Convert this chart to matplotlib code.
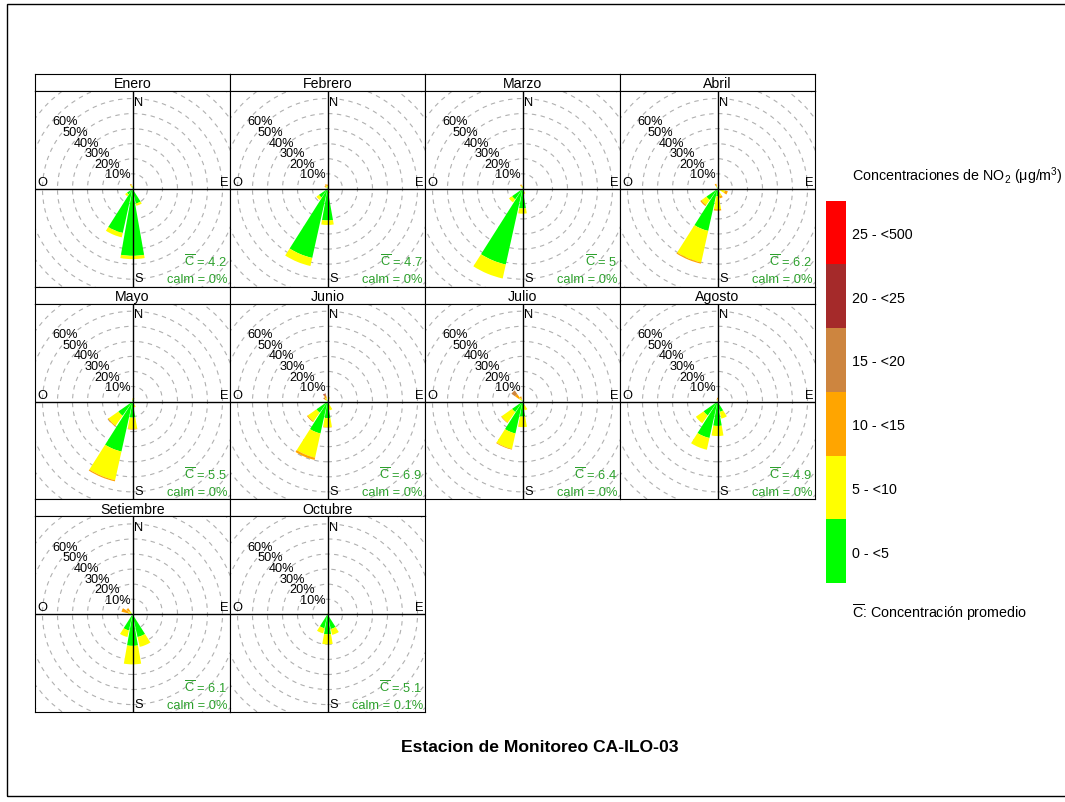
import matplotlib
matplotlib.use("Agg")
import numpy as np
import matplotlib.pyplot as plt
from matplotlib.patches import Wedge, Circle, Rectangle

plt.rcParams["font.family"] = ["Liberation Sans", "DejaVu Sans"]
plt.rcParams["mathtext.fontset"] = "custom"
plt.rcParams["mathtext.rm"] = "Liberation Sans"
plt.rcParams["mathtext.it"] = "Liberation Sans:italic"
plt.rcParams["mathtext.bf"] = "Liberation Sans:bold"

# concentration bins and colours
bin_labels = ["0 - <5", "5 - <10", "10 - <15", "15 - <20", "20 - <25", "25 - <500"]
bin_colors = ["#00FF00", "#FFFF00", "#FFA500", "#CD853F", "#A52A2A", "#FF0000"]

sector_angle = {"N": 0, "NNE": 22.5, "NE": 45, "ENE": 67.5, "E": 90, "ESE": 112.5,
                "SE": 135, "SSE": 157.5, "S": 180, "SSW": 202.5, "SW": 225,
                "WSW": 247.5, "W": 270, "WNW": 292.5, "NW": 315, "NNW": 337.5}

months = ["Enero", "Febrero", "Marzo", "Abril", "Mayo", "Junio",
          "Julio", "Agosto", "Setiembre", "Octubre"]

# frequency (%) per sector, split by concentration bin (green, yellow, orange, ...)
enero = {"S": [44.5, 2.2], "SSW": [30, 3], "SSE": [10, 1.5], "SW": [4.5, 1.5],
         "NNW": [1, 1.5, 0.8], "N": [1, 1]}
febrero = {"SSW": [47, 5.5], "S": [21, 3], "SW": [7, 2], "SSE": [2, 1],
           "NNW": [1, 1, 1.2], "N": [1, 1, 0.8], "NW": [0.5, 1, 1]}
marzo = {"SSW": [51.5, 9.5], "S": [13, 3.5], "SW": [8.5, 2.5], "SSE": [2, 1.5],
         "NNW": [1, 1, 1], "N": [1, 1]}
abril = {"SSW": [28.6, 21.5, 0.8], "SW": [9, 4, 1], "S": [5, 8.5, 1],
         "SSE": [2, 3, 1.5], "ESE": [2, 3, 2], "NNW": [1, 1, 1.5], "NNE": [1, 1, 0.5]}
mayo = {"SSW": [34, 19.5, 0.8], "SW": [11.5, 8, 0.6], "S": [10.7, 7.5, 0.4],
        "SSE": [2, 2], "NNE": [1, 1.5], "N": [1, 1]}
junio = {"SSW": [21.7, 16.5, 1.5], "SW": [9, 7, 0.7], "S": [11, 6, 0.3],
         "SSE": [2, 4], "NNE": [1, 2], "NNW": [1, 1.5, 1.5, 1, 0.5], "NW": [0.5, 1, 1, 1]}
julio = {"SSW": [21.7, 10.5, 0.5], "SW": [8.5, 8.5, 0.4], "S": [10, 7],
         "SSE": [2, 4], "NW": [1, 2, 3, 3], "NNW": [1, 1, 1.5]}
agosto = {"SSW": [24.8, 8], "SW": [11.3, 6.3], "S": [16.2, 6.7], "SSE": [7, 4.6],
          "N": [0.5, 1, 1], "NNW": [0.5, 0.5, 0.5]}
setiembre = {"S": [21, 12.3], "SSE": [15.5, 6.7], "SSW": [11, 4.5],
             "WNW": [1, 2, 4.5], "NW": [1, 1.5, 2.5], "W": [1, 1, 1]}
octubre = {"S": [13.3, 6.7], "SSE": [10, 4], "SSW": [9.5, 3.5], "N": [0.5, 0.5]}

month_data = [enero, febrero, marzo, abril, mayo, junio, julio, agosto, setiembre, octubre]
mean_conc = ["4.2", "4.7", "5", "6.2", "5.5", "6.9", "6.4", "4.9", "6.1", "5.1"]
calm = ["0%", "0%", "0%", "0%", "0%", "0%", "0%", "0%", "0%", "0.1%"]
ring_values = [10, 20, 30, 40, 50, 60]

W, H = 1065, 803
fig = plt.figure(figsize=(W / 100, H / 100), dpi=100)


def fbox(left, top, width, height):
    return [left / W, 1 - (top + height) / H, width / W, height / H]


lim = 65
half_width = 10  # degrees each side of sector centre
col_w, row_h, strip_h = 195, 212.7, 17
green_txt = "#2ca02c"

for i, (name, data) in enumerate(zip(months, month_data)):
    r, c = divmod(i, 4)
    left = 35 + col_w * c
    top = 75 + row_h * r

    sax = fig.add_axes(fbox(left, top, col_w, strip_h))
    sax.set_xticks([])
    sax.set_yticks([])
    sax.text(0.5, 0.45, name, ha="center", va="center", fontsize=10.2, transform=sax.transAxes)
    for s in sax.spines.values():
        s.set_linewidth(0.8)

    ax = fig.add_axes(fbox(left, top + strip_h, col_w, row_h - strip_h))
    ax.set_xlim(-lim, lim)
    ax.set_ylim(-lim, lim)
    ax.set_xticks([])
    ax.set_yticks([])
    for s in ax.spines.values():
        s.set_linewidth(0.8)

    for rv in range(10, 100, 10):
        ax.add_patch(Circle((0, 0), rv, fill=False, ec="#b0b0b0", lw=0.8,
                            ls=(0, (4, 4)), zorder=1))
    for rv in ring_values:
        d = (rv + 3.5) / np.sqrt(2)
        ax.text(-d, d, f"{rv}%", ha="center", va="center", fontsize=9.2, zorder=2)

    ax.axhline(0, color="black", lw=1, zorder=4)
    ax.axvline(0, color="black", lw=1, zorder=4)

    for sector, vals in data.items():
        theta = 90 - sector_angle[sector]
        inner = 0
        for k, v in enumerate(vals):
            outer = inner + v
            ax.add_patch(Wedge((0, 0), outer, theta - half_width, theta + half_width,
                               width=v, fc=bin_colors[k], ec="none", zorder=3))
            inner = outer

    ax.text(1.3, 62, "N", ha="left", va="top", fontsize=9.3, zorder=5)
    ax.text(1.3, -63.5, "S", ha="left", va="bottom", fontsize=9.3, zorder=5)
    ax.text(-63.5, 0.6, "O", ha="left", va="bottom", fontsize=9.3, zorder=5)
    ax.text(63.8, 0.6, "E", ha="right", va="bottom", fontsize=9.3, zorder=5)

    ax.text(63.5, -48, r"$\overline{\mathrm{C}}$ = " + mean_conc[i], ha="right", va="center",
            fontsize=9.3, color=green_txt, zorder=5)
    ax.text(63.5, -60, "calm = " + calm[i], ha="right", va="center",
            fontsize=9.3, color=green_txt, zorder=5)

# legend blocks
lax = fig.add_axes(fbox(826, 201.7, 20, 382.3))
lax.barh(np.arange(len(bin_labels)), 1, height=1, color=bin_colors, align="edge")
lax.set_xlim(0, 1)
lax.set_ylim(0, len(bin_labels))
lax.axis("off")
for k, lab in enumerate(bin_labels):
    fig.text(852 / W, 1 - (584 - (k + 0.5) * 382.3 / 6 + 1.5) / H, lab,
             ha="left", va="center", fontsize=10.3)

fig.text(852 / W, 1 - 176 / H, r"Concentraciones de NO$_2$ ($\mathrm{\mu}$g/m$^3$)",
         ha="left", va="center", fontsize=10.3)
fig.text(852 / W, 1 - 613 / H, r"$\overline{\mathrm{C}}$: Concentración promedio",
         ha="left", va="center", fontsize=10.3)

fig.text(540 / W, 1 - 748 / H, "Estacion de Monitoreo CA-ILO-03",
         ha="center", va="center", fontsize=12.6, fontweight="bold")

# outer frame
fig.add_artist(Rectangle((7 / W, 1 - 797 / H), 1.05, 792 / H, transform=fig.transFigure,
                         fill=False, ec="black", lw=1))

fig.savefig("out.png", dpi=100)
